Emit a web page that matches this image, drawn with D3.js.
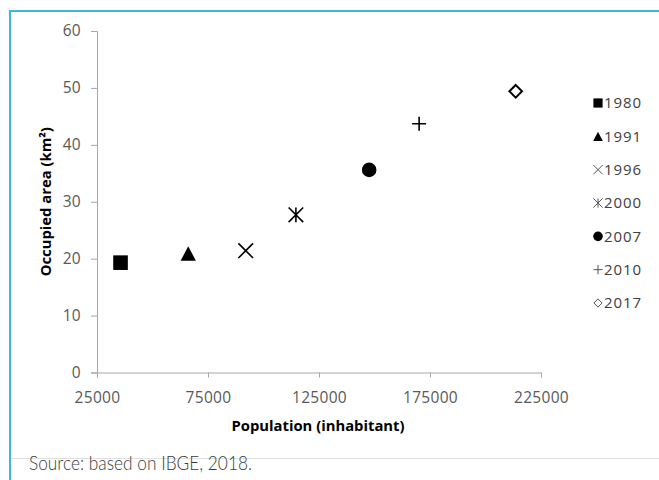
<!DOCTYPE html>
<html>
<head>
<meta charset="utf-8">
<script src="https://cdn.jsdelivr.net/npm/d3@7"></script>
<style>
  html, body { margin: 0; padding: 0; background: #fff; }
  svg { display: block; }
  .tick-label { font-family: "Open Sans", sans-serif; font-size: 15.5px; fill: #595959; letter-spacing: 0.3px; }
  .axis-title { font-family: "Open Sans", sans-serif; font-size: 14.8px; font-weight: bold; fill: #000; }
  .legend-label { font-family: "Open Sans", sans-serif; font-size: 15px; fill: #404040; letter-spacing: 0.9px; }
  .source { font-family: "Lato", sans-serif; font-size: 19px; font-weight: 300; fill: #3a3a3a; }
</style>
</head>
<body>
<svg id="chart" width="659" height="480"></svg>
<script>
// chart data
const years = ["1980", "1991", "1996", "2000", "2007", "2010", "2017"];
const population = [35600, 66100, 92000, 114600, 147600, 170100, 213600];
const area = [19.3, 20.9, 21.4, 27.7, 35.6, 43.7, 49.4];
const markers = ["square", "triangle", "cross", "asterisk", "circle", "plus", "diamond"];

const xTicks = [25000, 75000, 125000, 175000, 225000];
const yTicks = [0, 10, 20, 30, 40, 50, 60];

const svg = d3.select('#chart');

// frame: blue top / left rules and grey separator
svg.append('line').attr('x1', 10).attr('x2', 659).attr('y1', 11).attr('y2', 11)
  .attr('stroke', '#3cb6e3').attr('stroke-width', 2);
svg.append('line').attr('x1', 10).attr('x2', 10).attr('y1', 10).attr('y2', 480)
  .attr('stroke', '#3cb6e3').attr('stroke-width', 2);
svg.append('line').attr('x1', 11).attr('x2', 659).attr('y1', 458.5).attr('y2', 458.5)
  .attr('stroke', '#e0e0e0').attr('stroke-width', 1);

const x = d3.scaleLinear().domain([25000, 225000]).range([97, 541]);
const y = d3.scaleLinear().domain([0, 60]).range([372.5, 31]);

const axisColor = '#a6a6a6';

// y axis
const yAxis = svg.append('g')
  .attr('transform', `translate(${x.range()[0]},0)`)
  .call(d3.axisLeft(y).tickValues(yTicks).tickSize(6).tickPadding(10));
yAxis.select('.domain').attr('stroke', axisColor);
yAxis.selectAll('.tick line').attr('stroke', axisColor);
yAxis.selectAll('.tick text').attr('class', 'tick-label').attr('font-family', null).attr('font-size', null);

// x axis
const xAxis = svg.append('g')
  .attr('transform', `translate(0,${y(0)})`)
  .call(d3.axisBottom(x).tickValues(xTicks).tickFormat(d3.format('d')).tickSize(5).tickPadding(14));
xAxis.select('.domain').attr('stroke', axisColor);
xAxis.selectAll('.tick line').attr('stroke', axisColor);
xAxis.selectAll('.tick text').attr('class', 'tick-label').attr('font-family', null).attr('font-size', null);

// axis titles
svg.append('text').attr('class', 'axis-title')
  .attr('x', 318).attr('y', 431)
  .attr('text-anchor', 'middle')
  .text('Population (inhabitant)');

svg.append('text').attr('class', 'axis-title')
  .attr('transform', `translate(51,${(y(0) + y(60)) / 2}) rotate(-90)`)
  .attr('text-anchor', 'middle')
  .text('Occupied area (km²)');

// marker shapes, s = half size
function drawMarker(g, type, s, sw, color) {
  if (type === 'square') {
    g.append('rect').attr('x', -s).attr('y', -s).attr('width', 2 * s).attr('height', 2 * s).attr('fill', color);
  } else if (type === 'triangle') {
    g.append('path').attr('d', `M0,${-s}L${s * 1.05},${s}L${-s * 1.05},${s}Z`).attr('fill', color);
  } else if (type === 'cross') {
    g.append('path').attr('d', `M${-s},${-s}L${s},${s}M${-s},${s}L${s},${-s}`)
      .attr('stroke', color).attr('stroke-width', sw).attr('fill', 'none');
  } else if (type === 'asterisk') {
    g.append('path').attr('d', `M${-s},${-s}L${s},${s}M${-s},${s}L${s},${-s}M0,${-s}L0,${s}`)
      .attr('stroke', color).attr('stroke-width', sw).attr('fill', 'none');
  } else if (type === 'circle') {
    g.append('circle').attr('r', s).attr('fill', color);
  } else if (type === 'plus') {
    g.append('path').attr('d', `M${-s},0L${s},0M0,${-s}L0,${s}`)
      .attr('stroke', color).attr('stroke-width', sw).attr('fill', 'none');
  } else if (type === 'diamond') {
    g.append('path').attr('d', `M0,${-s + sw / 2}L${s - sw / 2},0L0,${s - sw / 2}L${-s + sw / 2},0Z`)
      .attr('stroke', color).attr('stroke-width', sw).attr('fill', '#fff');
  }
}

// points
const points = svg.append('g').attr('class', 'points');
years.forEach((yr, i) => {
  const g = points.append('g').attr('transform', `translate(${x(population[i])},${y(area[i])})`);
  drawMarker(g, markers[i], markers[i] === 'plus' ? 7 : 7.3, markers[i] === 'diamond' ? 2 : 1.6, '#000');
});

// legend
const legend = svg.append('g').attr('class', 'legend');
const legendY = d3.scalePoint().domain(years).range([103, 303]);
years.forEach((yr, i) => {
  const row = legend.append('g').attr('transform', `translate(598,${legendY(yr)})`);
  const thin = ['cross', 'asterisk', 'plus', 'diamond'].includes(markers[i]);
  drawMarker(row, markers[i], markers[i] === 'circle' ? 4.8 : 4.6, thin ? 1 : 1.6, thin ? '#555' : '#000');
  row.append('text').attr('class', 'legend-label')
    .attr('x', 6).attr('dy', '0.36em')
    .text(yr);
});

// source note
svg.append('text').attr('class', 'source')
  .attr('x', 29).attr('y', 470)
  .attr('textLength', 223).attr('lengthAdjust', 'spacingAndGlyphs')
  .text('Source: based on IBGE, 2018.');
</script>
</body>
</html>
